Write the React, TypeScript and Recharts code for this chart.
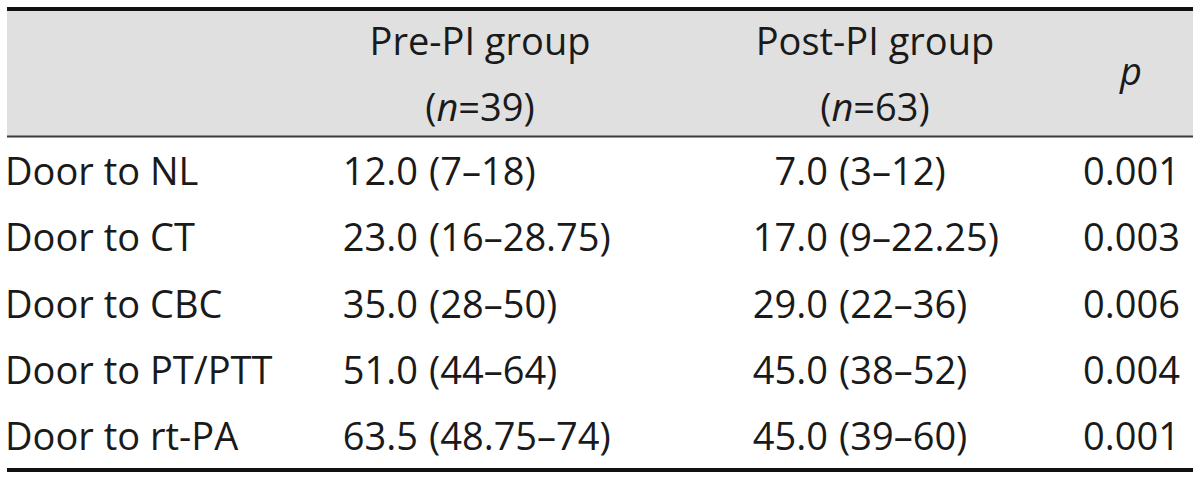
import React from 'react';
import { ComposedChart, XAxis, YAxis, Line, Customized } from 'recharts';

// ---- data ----
const rowLabels = ['Door to NL', 'Door to CT', 'Door to CBC', 'Door to PT/PTT', 'Door to rt-PA'];
const preMedian = [12.0, 23.0, 35.0, 51.0, 63.5];
const preQ1 = [7, 16, 28, 44, 48.75];
const preQ3 = [18, 28.75, 50, 64, 74];
const postMedian = [7.0, 17.0, 29.0, 45.0, 45.0];
const postQ1 = [3, 9, 22, 38, 39];
const postQ3 = [12, 22.25, 36, 52, 60];
const pValues = [0.001, 0.003, 0.006, 0.004, 0.001];
const groupNames = ['Pre-PI group', 'Post-PI group'];
const groupSizes = [39, 63];
const pHeader = 'p';

const tableData = rowLabels.map((row, i) => ({
  row,
  preMedian: preMedian[i],
  preQ1: preQ1[i],
  preQ3: preQ3[i],
  postMedian: postMedian[i],
  postQ1: postQ1[i],
  postQ3: postQ3[i],
  p: pValues[i],
}));

// ---- layout / style ----
const W = 1200;
const H = 480;
const FONT = '"Open Sans", "DejaVu Sans", sans-serif';
const FS = 38;
const INK = '#1a1a1a';
const TABLE_L = 7;
const TABLE_R = 1193;
const LABEL_X = 5;
const PRE_MED_R = 418;
const PRE_RANGE_L = 429;
const POST_MED_R = 828;
const POST_RANGE_L = 839;
const P_X = 1083;
const GROUP_CENTERS = [480, 875];
const P_CENTER = 1131;

const fmtRange = (a: number, b: number) => `(${a}\u2013${b})`;

const RowTick = (props: any) => {
  const { y, payload } = props;
  const d = tableData.find((r) => r.row === payload.value);
  if (!d) return <g />;
  const common = { fontFamily: FONT, fontSize: FS, fill: INK, dy: 13.5 } as any;
  return (
    <g>
      <text x={LABEL_X} y={y} textAnchor="start" {...common}>{d.row}</text>
      <text x={PRE_MED_R} y={y} textAnchor="end" {...common}>{d.preMedian.toFixed(1)}</text>
      <text x={PRE_RANGE_L} y={y} textAnchor="start" {...common}>{fmtRange(d.preQ1, d.preQ3)}</text>
      <text x={POST_MED_R} y={y} textAnchor="end" {...common}>{d.postMedian.toFixed(1)}</text>
      <text x={POST_RANGE_L} y={y} textAnchor="start" {...common}>{fmtRange(d.postQ1, d.postQ3)}</text>
      <text x={P_X} y={y} textAnchor="start" {...common}>{d.p.toFixed(3)}</text>
    </g>
  );
};

const Header = () => {
  const common = { fontFamily: FONT, fontSize: FS, fill: INK } as any;
  return (
    <g>
      <rect x={TABLE_L} y={11} width={TABLE_R - TABLE_L} height={125} fill="#e0e0e0" />
      <line x1={TABLE_L} x2={TABLE_R} y1={9} y2={9} stroke="#111" strokeWidth={4} />
      <line x1={TABLE_L} x2={TABLE_R} y1={136.5} y2={136.5} stroke="#3a3a3a" strokeWidth={2} />
      {groupNames.map((g, i) => (
        <g key={g}>
          <text x={GROUP_CENTERS[i]} y={55} textAnchor="middle" {...common}>{g}</text>
          <text x={GROUP_CENTERS[i]} y={121} textAnchor="middle" {...common}>
            <tspan>(</tspan>
            <tspan fontStyle="italic">n</tspan>
            <tspan>={groupSizes[i]})</tspan>
          </text>
        </g>
      ))}
      <text x={P_CENTER} y={85} textAnchor="middle" fontStyle="italic" {...common}>{pHeader}</text>
    </g>
  );
};

export default function App() {
  return (
    <div style={{ position: 'absolute', left: 0, top: 0, width: W, height: H, background: '#fff' }}>
      <ComposedChart
        width={W}
        height={H}
        layout="vertical"
        data={tableData}
        margin={{ top: 138.5, right: W - TABLE_R, bottom: 9, left: TABLE_L - 1 }}
      >
        <XAxis
          type="number"
          domain={[0, 80]}
          height={1}
          tick={false}
          tickLine={false}
          axisLine={{ stroke: '#111', strokeWidth: 4 }}
        />
        <YAxis
          type="category"
          dataKey="row"
          width={1}
          interval={0}
          padding={{ top: 33, bottom: 33.5 }}
          axisLine={false}
          tickLine={false}
          tick={<RowTick />}
        />
        <Line
          type="linear"
          dataKey="preMedian"
          stroke="transparent"
          dot={false}
          activeDot={false}
          legendType="none"
          isAnimationActive={false}
        />
        <Customized component={Header} />
      </ComposedChart>
    </div>
  );
}
